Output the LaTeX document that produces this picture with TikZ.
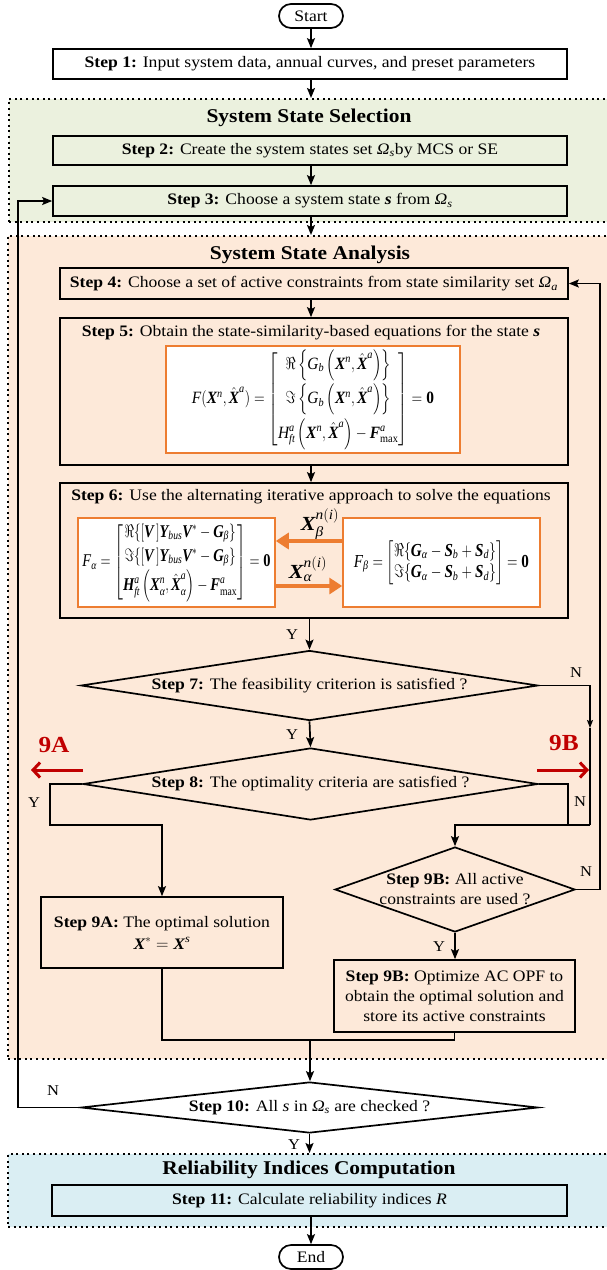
\documentclass[tikz,border=0pt]{standalone}
\usepackage{amsmath}
\usepackage{fontspec}
\setmainfont{Liberation Serif}[FakeStretch=1.1]
\usepackage{graphicx}
\usetikzlibrary{shapes.geometric,arrows.meta,calc}
\definecolor{greenbg}{RGB}{235,241,222}
\definecolor{peach}{RGB}{253,233,217}
\definecolor{bluebg}{RGB}{218,238,243}
\definecolor{orng}{RGB}{237,125,49}
\definecolor{darkred}{RGB}{192,0,0}
\newcommand\stfont{\fontsize{16}{20}\selectfont}
\newcommand\ttlfont{\fontsize{19.5}{22}\selectfont\bfseries}
\newcommand\ynfont{\fontsize{15}{16}\selectfont}
\newcommand\redfont{\fontsize{23}{24}\selectfont\bfseries}
\newcommand\xlfont{\fontsize{20}{22}\selectfont}
\newcommand\bv[1]{\text{\bfseries\itshape #1}}
\newcommand\iv[1]{\text{\normalfont\itshape #1}}
\newcommand\zb{\text{\bfseries 0}}
\newcommand\Om{\textit{Ω}}
\begin{document}
\begin{tikzpicture}[x=1pt,y=-1pt,
  box/.style={draw, line width=1.7pt, inner sep=0pt, align=center, font=\stfont},
  term/.style={draw, line width=1.7pt, rounded corners=12pt, fill=white, inner sep=0pt, minimum width=64pt, minimum height=24pt, font=\stfont},
  dia/.style={diamond, draw, line width=1.7pt, inner sep=0pt, align=center, font=\stfont},
  region/.style={draw, line width=2pt, dash pattern=on 2pt off 3.6pt, inner sep=0pt},
  ttl/.style={font=\ttlfont, inner sep=0pt},
  eqbox/.style={draw=orng, line width=1.5pt, fill=white, inner sep=0pt},
  conn/.style={line width=1.7pt},
  arr/.style={conn, -{Stealth[length=10pt,width=8pt,inset=2pt]}},
  thinarr/.style={line width=1.3pt, -{Stealth[length=8pt,width=6pt,inset=1.5pt]}},
  yn/.style={font=\ynfont, inner sep=0pt},
  txt/.style={font=\stfont, inner sep=0pt, align=center},
  oarr/.style={draw=orng, line width=4pt, -{Triangle[length=13pt,width=16pt]}},
  rarr/.style={draw=darkred, line width=3pt, -{Straight Barb[length=7pt,width=15pt]}},
  xl/.style={font=\xlfont, inner sep=0pt}
]
\useasboundingbox (0,0) rectangle (607,1270);

% regions
\node[region, fill=greenbg, minimum width=606pt, minimum height=123pt] (rsel) at (312,160.5) {};
\node[region, fill=peach, minimum width=607pt, minimum height=823pt] (rana) at (311.5,647.5) {};
\node[region, fill=bluebg, minimum width=607pt, minimum height=73pt] (rrel) at (311.5,1190.5) {};

\node[ttl] (tsel) at (309,118) {System State Selection};
\node[ttl] (tana) at (310,255) {System State Analysis};
\node[ttl] (trel) at (309,1170) {Reliability Indices Computation};

% nodes
\node[term] (start) at (311,16) {Start};
\node[box, fill=white, minimum width=514pt, minimum height=30pt] (s1) at (310,64) {\textbf{Step 1:} Input system data, annual curves, and preset parameters};
\node[box, fill=greenbg, minimum width=514pt, minimum height=29pt] (s2) at (310,150.5) {\textbf{Step 2:} Create the system states set \Om$_{\iv{s}}$by MCS or SE};
\node[box, fill=greenbg, minimum width=514pt, minimum height=30pt] (s3) at (310,201) {\textbf{Step 3:} Choose a system state \textbf{\textit{s}} from \Om$_{\iv{s}}$};
\node[box, fill=peach, minimum width=508pt, minimum height=31pt] (s4) at (314,283.5) {\textbf{Step 4:} Choose a set of active constraints from state similarity set \Om$_{\iv{a}}$};

\node[box, fill=peach, minimum width=508pt, minimum height=147pt] (s5) at (314,391.5) {};
\node[txt] (s5t) at (311,333) {\textbf{Step 5:} Obtain the state-similarity-based equations for the state \textbf{\textit{s}}};
\node[eqbox, minimum width=294pt, minimum height=107pt] (eq5) at (313,399.5) {\resizebox*{242pt}{100pt}{\fontsize{12}{14}\selectfont$\iv{F}(\bv{X}^{\iv{n}},\hat{\bv{X}}^{\iv{a}})=\begin{bmatrix}\Re\left\{\iv{G}_{\iv{b}}\left(\bv{X}^{\iv{n}},\hat{\bv{X}}^{\iv{a}}\right)\right\}\\[6pt] \Im\left\{\iv{G}_{\iv{b}}\left(\bv{X}^{\iv{n}},\hat{\bv{X}}^{\iv{a}}\right)\right\}\\[6pt] \iv{H}^{\iv{a}}_{\iv{ft}}\left(\bv{X}^{\iv{n}},\hat{\bv{X}}^{\iv{a}}\right)-\bv{F}^{\iv{a}}_{\text{max}}\end{bmatrix}=\zb$}};

\node[box, fill=peach, minimum width=508pt, minimum height=135pt] (s6) at (314,550.5) {};
\node[txt] (s6t) at (311,497) {\textbf{Step 6:} Use the alternating iterative approach to solve the equations};
\node[eqbox, minimum width=197pt, minimum height=89pt] (eql) at (176.5,562.5) {\resizebox*{188pt}{80pt}{\fontsize{12}{14}\selectfont$\iv{F}_{\iv{α}}=\begin{bmatrix}\Re\{[\bv{V}\,]\bv{Y}_{\iv{bus}}\bv{V}^{*}-\bv{G}_{\iv{β}}\}\\[2pt] \Im\{[\bv{V}\,]\bv{Y}_{\iv{bus}}\bv{V}^{*}-\bv{G}_{\iv{β}}\}\\[2pt] \bv{H}^{\iv{a}}_{\iv{ft}}\left(\bv{X}^{\iv{n}}_{\iv{α}},\hat{\bv{X}}^{\iv{a}}_{\iv{α}}\right)-\bv{F}^{\iv{a}}_{\text{max}}\end{bmatrix}=\zb$}};
\node[eqbox, minimum width=197pt, minimum height=89pt] (eqr) at (441.5,562.5) {\resizebox*{175pt}{44pt}{\fontsize{12}{14}\selectfont$\iv{F}_{\iv{β}}=\begin{bmatrix}\Re\{\bv{G}_{\iv{α}}-\bv{S}_{\iv{b}}+\bv{S}_{\iv{d}}\}\\ \Im\{\bv{G}_{\iv{α}}-\bv{S}_{\iv{b}}+\bv{S}_{\iv{d}}\}\end{bmatrix}=\zb$}};
\draw[oarr] ($(eqr.west)+(0,-21.5)$) -- ($(eql.east)+(0,-21.5)$);
\draw[oarr] ($(eql.east)+(0,23.5)$) -- ($(eqr.west)+(0,23.5)$);
\node[xl] (xb) at (320,524) {$\bv{X}_{\iv{β}}^{\iv{n}(\iv{i})}$};
\node[xl] (xa) at (308,569) {$\bv{X}_{\iv{α}}^{\iv{n}(\iv{i})}$};

\node[dia, fill=peach, minimum width=457pt, minimum height=70pt, aspect=6.5] (s7) at (309.5,685.5) {\textbf{Step 7:} The feasibility criterion is satisfied ?};
\node[dia, fill=peach, minimum width=455pt, minimum height=72pt, aspect=6.3] (s8) at (310.5,784) {\textbf{Step 8:} The optimality criteria are satisfied ?};
\node[dia, fill=peach, minimum width=240pt, minimum height=85pt, aspect=2.82, inner xsep=-4pt] (s9d) at (455,889.5) {\textbf{Step 9B:} All active\\constraints are used ?};
\node[box, fill=peach, minimum width=242pt, minimum height=71pt] (s9a) at (162,932.5) {\textbf{Step 9A:} The optimal solution\\[2pt] $\bv{X}^{*}=\bv{X}^{\iv{s}}$};
\node[box, fill=peach, minimum width=241pt, minimum height=72pt] (s9b) at (454.5,996) {\textbf{Step 9B:} Optimize AC OPF to\\obtain the optimal solution and\\store its active constraints};
\node[dia, fill=white, minimum width=457pt, minimum height=51pt, aspect=9] (s10) at (309.5,1107.5) {\textbf{Step 10:} All \textit{s} in \Om$_{\iv{s}}$ are checked ?};
\node[box, fill=bluebg, minimum width=515pt, minimum height=31pt] (s11) at (309.5,1200.5) {\textbf{Step 11:} Calculate reliability indices \textit{R}};
\node[term] (end) at (311,1257) {End};

% red markers
\node[font=\redfont, text=darkred, inner sep=0pt] (l9a) at (54,745) {9A};
\node[font=\redfont, text=darkred, inner sep=0pt] (l9b) at (564,743) {9B};
\coordinate (ra1) at (83,770); \coordinate (ra2) at (31,770);
\coordinate (rb1) at (537,770); \coordinate (rb2) at (589,770);
\draw[rarr] (ra1) -- (ra2);
\draw[rarr] (rb1) -- (rb2);

% coordinates
\coordinate (ya) at (50,825);
\coordinate (n7) at (590,728);
\coordinate (jr) at (590,825);
\coordinate (n8) at (568,825);
\coordinate (lp) at (600,283.5);
\coordinate (jb) at (310,1040);
\coordinate (ll) at (18,201);

% connectors
\draw[arr] (start.south) -- (start.south |- s1.north);
\draw[arr] (s1.south -| start) -- (start |- rsel.north);
\draw[arr] (s2.south -| start) -- (start |- s3.north);
\draw[arr] (s3.south -| start) -- (start |- rana.north);
\draw[arr] (s4.south -| start) -- (start |- s5.north);
\draw[arr] (s5.south -| start) -- (start |- s6.north);
\draw[arr] (s6.south -| s7.north) -- (s7.north);
\draw[arr] (s7.south) -- (s8.north);
\draw[arr] (s8.west) -| (ya) -| (s9a.north);
\draw[thinarr] (s7.east) -| (n7);
\draw[line width=1.3pt] (n7) -- (jr);
\draw[conn] (s8.east) -| (n8);
\draw[arr] (jr) -| (s9d.north);
\draw[arr] (s9d.east) -| (lp) -- (s4.east);
\draw[arr] (s9d.south) -- (s9d.south |- s9b.north);
\draw[conn] (s9a.south) |- (s9b.south |- jb) -- (s9b.south);
\draw[arr] (jb) -- (jb |- s10.north);
\draw[arr] (s10.west) -| (ll) -- (s3.west);
\draw[arr] (s10.south) -- (s10.south |- rrel.north);
\draw[arr] (s11.south -| end) -- (end.north);

% labels
\node[yn] (y1) at (292,635) {Y};
\node[yn] (y2) at (292,735) {Y};
\node[yn] (y3) at (34,803) {Y};
\node[yn] (n1) at (576,673) {N};
\node[yn] (n2) at (580,802) {N};
\node[yn] (n3) at (586,872) {N};
\node[yn] (y4) at (439,947) {Y};
\node[yn] (n4) at (53,1091) {N};
\node[yn] (y5) at (294,1145) {Y};
\end{tikzpicture}
\end{document}
